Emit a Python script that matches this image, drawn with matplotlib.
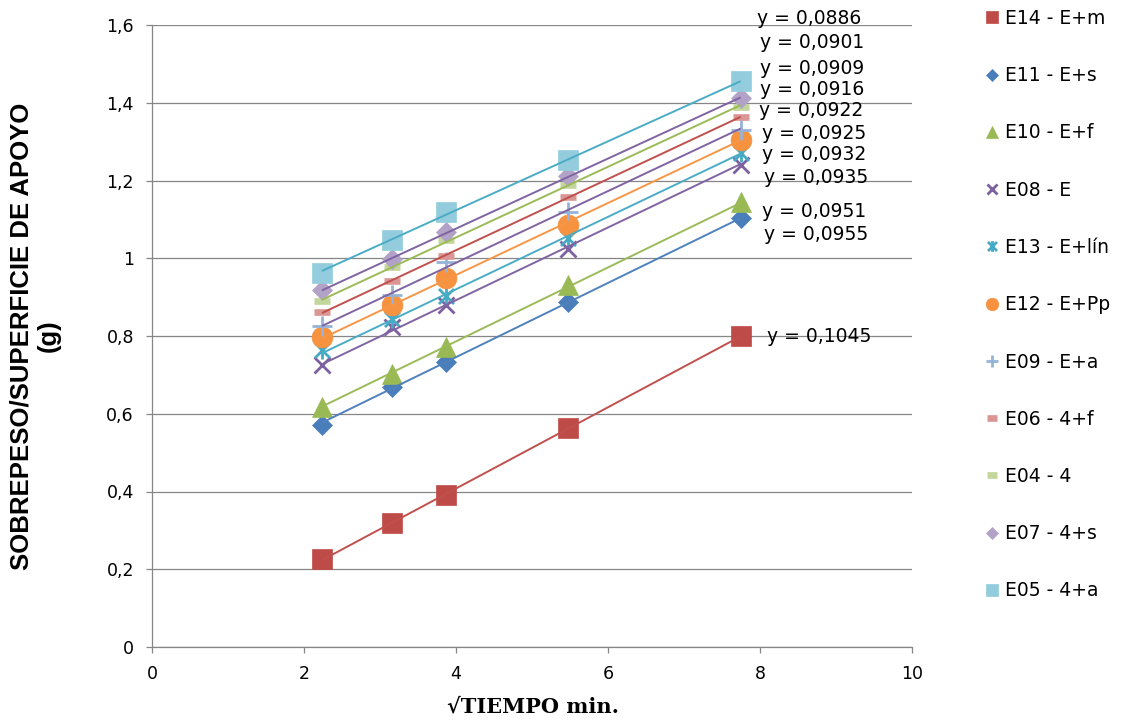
import numpy as np
import matplotlib
matplotlib.use("Agg")
import matplotlib.pyplot as plt
from matplotlib.path import Path
from matplotlib.ticker import FuncFormatter, MultipleLocator

# square root of time (min) at which each specimen was weighed
sqrt_t = [2.236, 3.162, 3.873, 5.477, 7.746]

series_names = ["E14 - E+m", "E11 - E+s", "E10 - E+f", "E08 - E", "E13 - E+lín",
                "E12 - E+Pp", "E09 - E+a", "E06 - 4+f", "E04 - 4", "E07 - 4+s",
                "E05 - 4+a"]

e14 = [0.226, 0.319, 0.391, 0.563, 0.800]
e11 = [0.571, 0.670, 0.734, 0.888, 1.103]
e10 = [0.618, 0.702, 0.772, 0.931, 1.145]
e08 = [0.725, 0.824, 0.880, 1.025, 1.240]
e13 = [0.764, 0.845, 0.903, 1.051, 1.270]
e12 = [0.797, 0.880, 0.950, 1.085, 1.304]
e09 = [0.826, 0.905, 0.991, 1.120, 1.330]
e06 = [0.862, 0.942, 1.007, 1.157, 1.364]
e04 = [0.891, 0.978, 1.047, 1.188, 1.390]
e07 = [0.918, 0.997, 1.068, 1.212, 1.411]
e05 = [0.962, 1.047, 1.120, 1.254, 1.456]
series_values = [e14, e11, e10, e08, e13, e12, e09, e06, e04, e07, e05]

# trendline slopes (g per sqrt(min)) as reported for each series
slopes = [0.1045, 0.0955, 0.0951, 0.0935, 0.0932, 0.0925, 0.0922, 0.0916,
          0.0909, 0.0901, 0.0886]

# where each trendline equation is written (data coordinates)
label_pos = [(8.09, 0.800), (8.05, 1.062), (8.03, 1.119), (8.05, 1.209),
             (8.03, 1.266), (8.03, 1.322), (7.99, 1.381), (8.00, 1.433),
             (8.00, 1.489), (8.00, 1.554), (7.96, 1.618)]

star = Path([(-0.5, -0.5), (0.5, 0.5), (-0.5, 0.5), (0.5, -0.5), (0, -0.6), (0, 0.6)],
            [Path.MOVETO, Path.LINETO, Path.MOVETO, Path.LINETO, Path.MOVETO, Path.LINETO])

styles = [
    dict(marker="s", ms=14, color="#BE4B48", line="#C0504D", filled=True),
    dict(marker="D", ms=10, color="#4A7EBB", line="#4F81BD", filled=True),
    dict(marker="^", ms=15, color="#98B954", line="#9BBB59", filled=True),
    dict(marker="x", ms=12, color="#7D60A0", line="#8064A2", filled=False, mew=2.0),
    dict(marker=star, ms=13, color="#46AAC5", line="#4BACC6", filled=False, mew=2.0),
    dict(marker="o", ms=15, color="#F69240", line="#F79646", filled=True),
    dict(marker="+", ms=15, color="#95B3D7", line="#8064A2", filled=False, mew=2.0),
    dict(marker="_", ms=11, color="#D99694", line="#C0504D", filled=False, mew=4.8),
    dict(marker="_", ms=11, color="#C3D69B", line="#9BBB59", filled=False, mew=4.8),
    dict(marker="D", ms=10, color="#B3A2C7", line="#8064A2", filled=True),
    dict(marker="s", ms=14, color="#93CDDD", line="#4BACC6", filled=True),
]

plt.rcParams["font.family"] = ["DejaVu Sans"]

fig = plt.figure(figsize=(11.24, 7.21), dpi=100)
ax = fig.add_axes([152 / 1124, 74 / 721, 760 / 1124, 622 / 721])

x = np.array(sqrt_t)
handles = []
for name, vals, st in zip(series_names, series_values, styles):
    y = np.array(vals)
    kw = dict(marker=st["marker"], ms=st["ms"], linestyle="none", label=name,
              zorder=3)
    if st["filled"]:
        kw.update(mfc=st["color"], mec=st["color"], mew=0.5)
    else:
        kw.update(mfc="none", mec=st["color"], mew=st["mew"])
    h, = ax.plot(x, y, **kw)
    handles.append(h)

for vals, st, m in zip(series_values, styles, slopes):
    y = np.array(vals)
    b = y.mean() - m * x.mean()
    xs = np.array([x.min(), x.max()])
    ax.plot(xs, m * xs + b, color=st["line"], lw=1.4, zorder=4, solid_capstyle="butt")

for (lx, ly), m in zip(label_pos, slopes):
    ax.text(lx, ly, ("y = %.4f" % m).replace(".", ","), ha="left", va="center",
            fontsize=13.5, color="black", clip_on=False, zorder=5)

ax.set_xlim(0, 10)
ax.set_ylim(0, 1.6)
ax.xaxis.set_major_locator(MultipleLocator(2))
ax.yaxis.set_major_locator(MultipleLocator(0.2))
ax.yaxis.set_major_formatter(FuncFormatter(lambda v, p: ("%g" % round(v, 1)).replace(".", ",")))
ax.xaxis.set_major_formatter(FuncFormatter(lambda v, p: "%d" % v))
ax.grid(axis="y", color="#868686", lw=0.9)
ax.set_axisbelow(True)
for s in ("top", "right"):
    ax.spines[s].set_visible(False)
for s in ("left", "bottom"):
    ax.spines[s].set_color("#868686")
    ax.spines[s].set_linewidth(0.9)
ax.tick_params(axis="both", direction="out", length=4, width=0.9, color="#868686",
               labelsize=12.5, labelcolor="black")
ax.tick_params(axis="y", pad=9)
ax.tick_params(axis="x", pad=9)

fig.text(35 / 1124, 1 - 336 / 721, "SOBREPESO/SUPERFICIE DE APOYO\n(g)", rotation=90,
         ha="center", va="center", fontsize=18.5, fontweight="bold",
         family=["Liberation Sans", "DejaVu Sans"], linespacing=1.15, multialignment="center")
fig.text(533 / 1124, 1 - 707 / 721, "\u221aTIEMPO min.", ha="center", va="center",
         fontsize=15, fontweight="bold", family=["DejaVu Serif"])

leg = fig.legend(handles=handles, loc="upper left", bbox_to_anchor=(984 / 1124, 1 - 9 / 721),
                 frameon=False, fontsize=13.5, markerscale=0.6, handlelength=0.8,
                 handletextpad=0.3, labelspacing=2.04, borderaxespad=0, borderpad=0)

fig.savefig("out.png", dpi=100)
